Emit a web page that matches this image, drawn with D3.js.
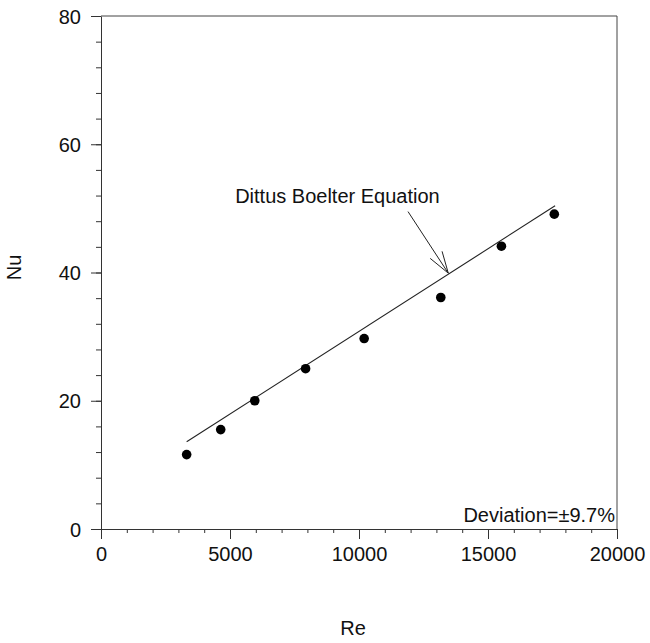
<!DOCTYPE html>
<html>
<head>
<meta charset="utf-8">
<script src="https://cdn.jsdelivr.net/npm/d3@7"></script>
<style>
  body { margin: 0; background: #fff; }
  text { font-family: "Liberation Sans", Arial, sans-serif; fill: #111; }
</style>
</head>
<body>
<div id="chart"></div>
<script>
// measured data (Re, Nu)
var reValues = [3320, 4640, 5960, 7930, 10200, 13170, 15520, 17570];
var nuValues = [11.6, 15.5, 20.0, 25.0, 29.7, 36.1, 44.1, 49.1];

// Dittus Boelter curve, end points
var dbRe = [3320, 17600];
var dbNu = [13.6, 50.4];

var xTicks = [0, 5000, 10000, 15000, 20000];
var yTicks = [0, 20, 40, 60, 80];

var margin = {top: 16, right: 33, bottom: 114, left: 101},
    width = 650 - margin.left - margin.right,
    height = 643 - margin.top - margin.bottom;

var svg = d3.select("#chart")
  .append("svg")
    .attr("width", 650)
    .attr("height", 643)
  .append("g")
    .attr("transform", "translate(" + margin.left + "," + margin.top + ")");

var x = d3.scaleLinear().domain([0, 20000]).range([0, width]);
var y = d3.scaleLinear().domain([0, 80]).range([height, 0]);

// minor ticks
svg.append("g")
  .attr("transform", "translate(0," + height + ")")
  .call(d3.axisBottom(x).tickValues(d3.range(0, 20001, 1000)).tickSize(4).tickFormat(""))
  .call(g => g.select(".domain").remove());
svg.append("g")
  .call(d3.axisLeft(y).tickValues(d3.range(0, 81, 4)).tickSize(5).tickFormat(""))
  .call(g => g.select(".domain").remove());

// major axes
var xAxis = svg.append("g")
  .attr("transform", "translate(0," + height + ")")
  .call(d3.axisBottom(x).tickValues(xTicks).tickFormat(d3.format("d")).tickSize(10).tickPadding(8).tickSizeOuter(0));
var yAxis = svg.append("g")
  .call(d3.axisLeft(y).tickValues(yTicks).tickFormat(d3.format("d")).tickSize(10).tickPadding(10).tickSizeOuter(0));

[xAxis, yAxis].forEach(function (g) {
  g.selectAll("text").style("font-size", "20px").style("font-family", "Liberation Sans, Arial, sans-serif").attr("fill", "#111");
  g.selectAll("line, path").attr("stroke", "#333");
});
yAxis.selectAll("text").attr("dy", "0.36em");

// frame top and right
svg.append("line").attr("x1", 0).attr("x2", width).attr("y1", 0).attr("y2", 0).attr("stroke", "#444");
svg.append("line").attr("x1", width).attr("x2", width).attr("y1", 0).attr("y2", height).attr("stroke", "#444");
svg.selectAll(".tick line").attr("stroke", "#333");

// correlation line
var line = d3.line()
  .x(function (d, i) { return x(dbRe[i]); })
  .y(function (d, i) { return y(dbNu[i]); });
svg.append("path")
  .datum(dbRe)
  .attr("d", line)
  .attr("fill", "none")
  .attr("stroke", "#222")
  .attr("stroke-width", 1.1);

// points
svg.append("g")
  .selectAll("circle")
  .data(reValues)
  .enter()
  .append("circle")
    .attr("cx", function (d) { return x(d); })
    .attr("cy", function (d, i) { return y(nuValues[i]); })
    .attr("r", 4.8)
    .style("fill", "#000");

// annotation
svg.append("text")
  .attr("x", x(5200))
  .attr("y", y(50.9))
  .style("font-size", "20px")
  .text("Dittus Boelter Equation");

var tipX = x(13460), tipY = y(39.9);
svg.append("line")
  .attr("x1", x(11900)).attr("y1", y(49.5))
  .attr("x2", tipX).attr("y2", tipY)
  .attr("stroke", "#222");
svg.append("line")
  .attr("x1", x(12760)).attr("y1", y(42.2))
  .attr("x2", tipX).attr("y2", tipY)
  .attr("stroke", "#222");
svg.append("line")
  .attr("x1", x(13220)).attr("y1", y(43.3))
  .attr("x2", tipX).attr("y2", tipY)
  .attr("stroke", "#222");

svg.append("text")
  .attr("x", width - 2)
  .attr("y", height - 7)
  .attr("text-anchor", "end")
  .style("font-size", "20px")
  .text("Deviation=±9.7%");

// axis titles
svg.append("text")
  .attr("transform", "translate(-80," + (y(40) - 5) + ") rotate(-90)")
  .attr("text-anchor", "middle")
  .style("font-size", "20px")
  .text("Nu");

svg.append("text")
  .attr("x", width / 2 - 6)
  .attr("y", height + 106)
  .attr("text-anchor", "middle")
  .style("font-size", "20px")
  .text("Re");
</script>
</body>
</html>
